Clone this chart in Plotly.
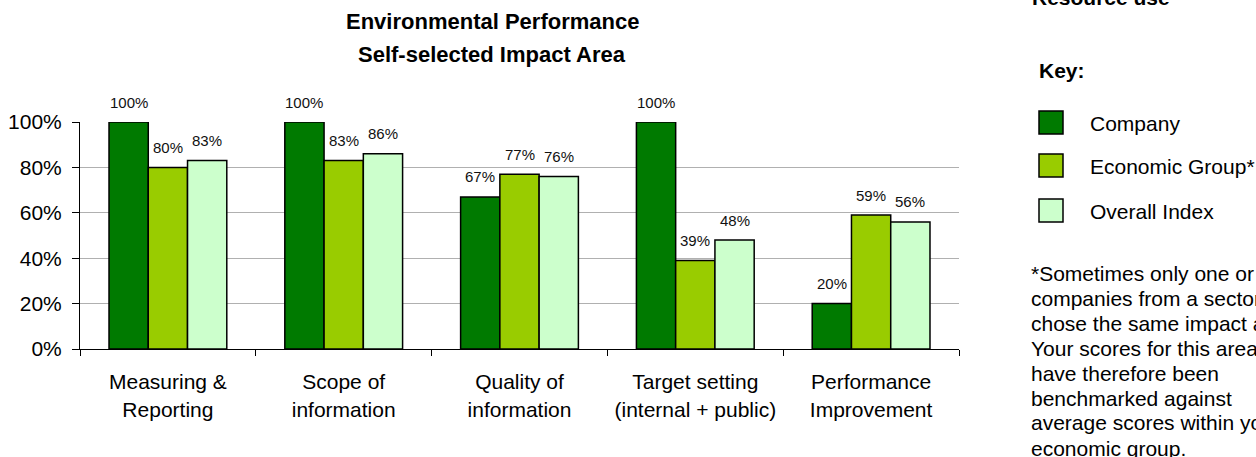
import plotly.graph_objects as go

categories = ["Measuring &<br>Reporting", "Scope of<br>information", "Quality of<br>information",
              "Target setting<br>(internal + public)", "Performance<br>Improvement"]
series_names = ["Company", "Economic Group*", "Overall Index"]
company = [1.00, 1.00, 0.67, 1.00, 0.20]
economic_group = [0.80, 0.83, 0.77, 0.39, 0.59]
overall_index = [0.83, 0.86, 0.76, 0.48, 0.56]
colors = ["#007A00", "#99CC00", "#CCFFCC"]
y_ticks = [0, 0.2, 0.4, 0.6, 0.8, 1.0]
y_tick_labels = ["0%", "20%", "40%", "60%", "80%", "100%"]
note_lines = ["*Sometimes only one or two", "companies from a sector", "chose the same impact area.",
              "Your scores for this area", "have therefore been", "benchmarked against",
              "average scores within your", "economic group."]

W, H = 1256, 457
L, R, T, B = 80, 959, 122, 349
FONT = "Liberation Sans, Arial, sans-serif"
BARGAP = 0.33


def px(x):
    return (x - L) / (R - L)


def py(y):
    return (B - y) / (B - T)


def text_at(x, y, text, size=21, xanchor="left", yanchor="middle"):
    fig.add_annotation(x=px(x), y=py(y), xref="paper", yref="paper", text=text, showarrow=False,
                       xanchor=xanchor, yanchor=yanchor, font=dict(family=FONT, size=size, color="black"))


fig = go.Figure()
series = [company, economic_group, overall_index]
xs = list(range(len(categories)))
for name, vals, col in zip(series_names, series, colors):
    fig.add_trace(go.Bar(x=xs, y=vals, name=name,
                         marker=dict(color=col, line=dict(color="black", width=1.5)),
                         showlegend=False, hoverinfo="skip"))

bw = (1 - BARGAP) / len(series)
for k, vals in enumerate(series):
    off = (k - 1) * bw
    for i, v in enumerate(vals):
        fig.add_annotation(x=i + off, y=v, xref="x", yref="y", text=f"{round(v * 100)}%",
                           showarrow=False, yshift=20, yanchor="middle", xanchor="center",
                           font=dict(family=FONT, size=15, color="#111"))

# Title
text_at(492, 22, "<b>Environmental Performance</b>", size=22, xanchor="center")
text_at(492, 55, "<b>Self-selected Impact Area</b>", size=22, xanchor="center")

# Right panel
text_at(1030, 11, "<b>Resource use</b>", size=21, yanchor="bottom")
text_at(1037, 70, "<b>Key:</b>", size=21)
sq_tops = [111, 154, 199]
for name, col, t in zip(series_names, colors, sq_tops):
    fig.add_shape(type="rect", xref="paper", yref="paper", x0=px(1039), x1=px(1063), y0=py(t + 23), y1=py(t),
                  fillcolor=col, line=dict(color="black", width=1.5))
    text_at(1088, t + 12, name)

for j, line in enumerate(note_lines):
    text_at(1029, 273 + 25 * j, line)

fig.update_layout(
    width=W, height=H, barmode="group", bargap=BARGAP, bargroupgap=0,
    margin=dict(l=L, r=W - R, t=T, b=H - B, pad=0, autoexpand=False),
    plot_bgcolor="white", paper_bgcolor="white",
    font=dict(family=FONT, size=21, color="black"),
)
fig.update_xaxes(tickmode="array", tickvals=xs, ticktext=categories, range=[-0.5, len(categories) - 0.5],
                 showline=True, linecolor="black", linewidth=1, ticks="outside", ticklen=6, tickcolor="black",
                 showgrid=False, ticklabelstandoff=14, automargin=False,
                 tickfont=dict(family=FONT, size=21, color="black"))
fig.update_xaxes(tickson="boundaries", type="category")
fig.update_yaxes(range=[0, 1], tickvals=y_ticks, ticktext=y_tick_labels, showline=True, linecolor="black",
                 linewidth=1, ticks="outside", ticklen=7, tickcolor="black", showgrid=True, gridcolor="#b0b0b0",
                 gridwidth=1, zeroline=False, ticklabelstandoff=6, automargin=False,
                 tickfont=dict(family=FONT, size=21, color="black"))

fig.write_html("out.html", config={"displayModeBar": False},
               post_script="document.body.style.margin='0';document.body.style.overflow='hidden';")
